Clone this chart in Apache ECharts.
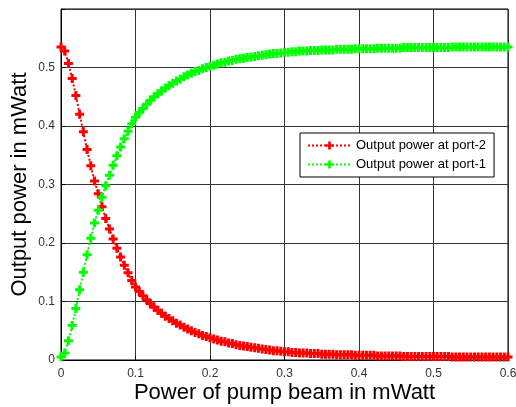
<!DOCTYPE html>
<html>
<head>
<meta charset="utf-8">
<script src="https://cdn.jsdelivr.net/npm/echarts@6/dist/echarts.min.js"></script>
<style>
  html, body { margin: 0; padding: 0; background: #fff; }
  #chart { width: 516px; height: 407px; }
</style>
</head>
<body>
<div id="chart"></div>
<script>
// pump power (mWatt), step 0.005
var pumpPower = [
  0, 0.005, 0.01, 0.015, 0.02, 0.025, 0.03, 0.035, 0.04, 0.045,
  0.05, 0.055, 0.06, 0.065, 0.07, 0.075, 0.08, 0.085, 0.09, 0.095,
  0.1, 0.105, 0.11, 0.115, 0.12, 0.125, 0.13, 0.135, 0.14, 0.145,
  0.15, 0.155, 0.16, 0.165, 0.17, 0.175, 0.18, 0.185, 0.19, 0.195,
  0.2, 0.205, 0.21, 0.215, 0.22, 0.225, 0.23, 0.235, 0.24, 0.245,
  0.25, 0.255, 0.26, 0.265, 0.27, 0.275, 0.28, 0.285, 0.29, 0.295,
  0.3, 0.305, 0.31, 0.315, 0.32, 0.325, 0.33, 0.335, 0.34, 0.345,
  0.35, 0.355, 0.36, 0.365, 0.37, 0.375, 0.38, 0.385, 0.39, 0.395,
  0.4, 0.405, 0.41, 0.415, 0.42, 0.425, 0.43, 0.435, 0.44, 0.445,
  0.45, 0.455, 0.46, 0.465, 0.47, 0.475, 0.48, 0.485, 0.49, 0.495,
  0.5, 0.505, 0.51, 0.515, 0.52, 0.525, 0.53, 0.535, 0.54, 0.545,
  0.55, 0.555, 0.56, 0.565, 0.57, 0.575, 0.58, 0.585, 0.59, 0.595,
  0.6
];
// output power at port-2 (red)
var port2 = [
  0.535, 0.528, 0.507, 0.481, 0.452, 0.420, 0.390, 0.360, 0.332, 0.306,
  0.284, 0.262, 0.242, 0.224, 0.207, 0.191, 0.176, 0.162, 0.149, 0.136,
  0.125, 0.117, 0.110, 0.103, 0.096, 0.090, 0.085, 0.080, 0.075, 0.071,
  0.067, 0.063, 0.060, 0.056, 0.053, 0.050, 0.047, 0.045, 0.042, 0.040,
  0.038, 0.036, 0.034, 0.032, 0.031, 0.029, 0.028, 0.026, 0.025, 0.024,
  0.023, 0.022, 0.021, 0.020, 0.019, 0.018, 0.017, 0.016, 0.016, 0.015,
  0.014, 0.014, 0.013, 0.013, 0.012, 0.012, 0.012, 0.011, 0.011, 0.011,
  0.010, 0.010, 0.010, 0.010, 0.009, 0.009, 0.009, 0.009, 0.009, 0.008,
  0.008, 0.008, 0.008, 0.008, 0.008, 0.007, 0.007, 0.007, 0.007, 0.007,
  0.007, 0.007, 0.006, 0.006, 0.006, 0.006, 0.006, 0.006, 0.006, 0.006,
  0.006, 0.006, 0.006, 0.006, 0.006, 0.005, 0.005, 0.005, 0.005, 0.005,
  0.005, 0.005, 0.005, 0.005, 0.005, 0.005, 0.005, 0.005, 0.005, 0.005,
  0.005
];
// output power at port-1 (green)
var port1 = [
  0.005, 0.012, 0.033, 0.059, 0.088, 0.120, 0.150, 0.180, 0.208, 0.234,
  0.256, 0.278, 0.298, 0.316, 0.333, 0.349, 0.364, 0.378, 0.391, 0.404,
  0.415, 0.423, 0.430, 0.437, 0.444, 0.450, 0.455, 0.460, 0.465, 0.469,
  0.473, 0.477, 0.480, 0.484, 0.487, 0.490, 0.493, 0.495, 0.498, 0.500,
  0.502, 0.504, 0.506, 0.508, 0.509, 0.511, 0.512, 0.514, 0.515, 0.516,
  0.517, 0.518, 0.519, 0.520, 0.521, 0.522, 0.523, 0.524, 0.524, 0.525,
  0.526, 0.526, 0.527, 0.527, 0.528, 0.528, 0.528, 0.529, 0.529, 0.529,
  0.530, 0.530, 0.530, 0.530, 0.531, 0.531, 0.531, 0.531, 0.531, 0.532,
  0.532, 0.532, 0.532, 0.532, 0.532, 0.533, 0.533, 0.533, 0.533, 0.533,
  0.533, 0.533, 0.534, 0.534, 0.534, 0.534, 0.534, 0.534, 0.534, 0.534,
  0.534, 0.534, 0.534, 0.534, 0.534, 0.535, 0.535, 0.535, 0.535, 0.535,
  0.535, 0.535, 0.535, 0.535, 0.535, 0.535, 0.535, 0.535, 0.535, 0.535,
  0.535
];
var seriesNames = ["Output power at port-2", "Output power at port-1"];

var plus = "path://M3,0H6V3H9V6H6V9H3V6H0V3H3Z";
var font = "Liberation Sans, Arial, sans-serif";

function pairs(ys) {
  return pumpPower.map(function (x, i) {
    return [x, ys[i]];
  });
}

var chart = echarts.init(document.getElementById("chart"));
var option = {
  animation: false,
  backgroundColor: "#fff",
  grid: {
    left: 61,
    right: 8,
    top: 9,
    bottom: 47,
    show: true,
    borderColor: "#000",
    borderWidth: 1,
    outerBoundsMode: "none",
  },
  legend: {
    orient: "vertical",
    left: 300,
    top: 133,
    padding: [6, 8, 6, 7],
    itemGap: 6,
    itemWidth: 43,
    itemHeight: 10,
    borderColor: "#000",
    borderWidth: 1,
    backgroundColor: "#fff",
    textStyle: { fontFamily: font, fontSize: 13, color: "#000" },
    data: seriesNames,
  },
  xAxis: {
    type: "value",
    min: 0,
    max: 0.6,
    interval: 0.1,
    name: "Power of pump beam in mWatt",
    nameLocation: "middle",
    nameGap: 22,
    nameMoveOverlap: false,
    nameTextStyle: { fontFamily: font, fontSize: 22, color: "#000" },
    axisLine: { lineStyle: { color: "#000" } },
    axisTick: { inside: true, length: 4, lineStyle: { color: "#000" } },
    axisLabel: { fontFamily: font, fontSize: 12, color: "#333", margin: 8 },
    splitLine: { show: true, lineStyle: { color: "#333", width: 1 } },
  },
  yAxis: {
    type: "value",
    min: 0,
    max: 0.6,
    interval: 0.1,
    name: "Output power in mWatt",
    nameLocation: "middle",
    nameGap: 30,
    nameMoveOverlap: false,
    nameTextStyle: { fontFamily: font, fontSize: 22, color: "#000" },
    axisLine: { show: true, lineStyle: { color: "#000" } },
    axisTick: { inside: true, length: 4, lineStyle: { color: "#000" } },
    axisLabel: {
      fontFamily: font,
      fontSize: 12,
      color: "#333",
      margin: 6,
      formatter: function (v) {
        return v >= 0.6 ? "" : String(Math.round(v * 10) / 10);
      },
    },
    splitLine: { show: true, lineStyle: { color: "#333", width: 1 } },
  },
  series: [
    {
      name: seriesNames[0],
      type: "line",
      data: pairs(port2),
      symbol: plus,
      symbolSize: 9,
      showAllSymbol: true,
      color: "#ff0000",
      itemStyle: { color: "#ff0000" },
      lineStyle: { color: "#ff0000", width: 2, type: "dotted" },
    },
    {
      name: seriesNames[1],
      type: "line",
      data: pairs(port1),
      symbol: plus,
      symbolSize: 9,
      showAllSymbol: true,
      color: "#00ff00",
      itemStyle: { color: "#00ff00" },
      lineStyle: { color: "#00ff00", width: 2, type: "dotted" },
    },
  ],
};
chart.setOption(option);
</script>
</body>
</html>
